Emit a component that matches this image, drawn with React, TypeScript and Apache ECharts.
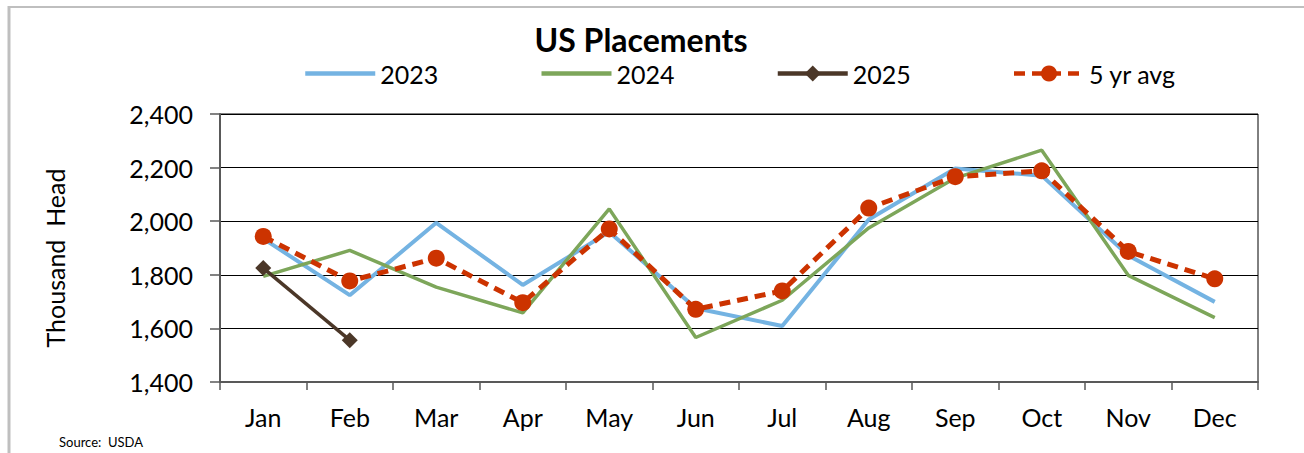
import React, { useEffect, useRef } from "react";
import * as echarts from "echarts";

const months = ["Jan", "Feb", "Mar", "Apr", "May", "Jun", "Jul", "Aug", "Sep", "Oct", "Nov", "Dec"];
const y2023 = [1935, 1724, 1994, 1762, 1960, 1675, 1609, 2006, 2197, 2170, 1872, 1699];
const y2024 = [1794, 1891, 1754, 1658, 2046, 1566, 1705, 1975, 2161, 2265, 1798, 1640];
const y2025 = [1825, 1556];
const avg5 = [1943, 1777, 1862, 1696, 1971, 1671, 1740, 2049, 2166, 2188, 1887, 1785];

const FONT = "Lato, 'Noto Sans', sans-serif";

export default function App() {
  const ref = useRef<HTMLDivElement>(null);
  useEffect(() => {
    document.body.style.margin = "0";
    if (!ref.current) return;
    const chart = echarts.init(ref.current, null, { renderer: "svg" });
    chart.setOption({
      animation: false,
      backgroundColor: "#ffffff",
      textStyle: { fontFamily: FONT },
      graphic: [
        { type: "line", shape: { x1: 8, y1: 7, x2: 1304, y2: 7 }, style: { stroke: "#BFBFBF", lineWidth: 2 } },
        { type: "line", shape: { x1: 9, y1: 6, x2: 9, y2: 453 }, style: { stroke: "#BFBFBF", lineWidth: 3 } },
        {
          type: "text",
          x: 641,
          y: 39,
          style: { text: "US Placements", fontFamily: FONT, fontSize: 32, fontWeight: "bold", fill: "#000", textAlign: "center", textVerticalAlign: "middle" },
        },
        {
          type: "text",
          x: 59,
          y: 442,
          style: { text: "Source:  USDA", fontFamily: FONT, fontSize: 13, fill: "#000", textAlign: "left", textVerticalAlign: "middle" },
        },
        {
          type: "text",
          x: 55,
          y: 258,
          rotation: Math.PI / 2,
          style: { text: "Thousand  Head", fontFamily: FONT, fontSize: 25, fill: "#000", textAlign: "center", textVerticalAlign: "middle" },
        },
      ],
      legend: {
        left: 303,
        top: 61,
        padding: 0,
        itemWidth: 70,
        itemHeight: 20,
        itemGap: 101,
        lineStyle: { width: 4.5 },
        textStyle: { fontFamily: FONT, fontSize: 25, color: "#000" },
        data: [
          { name: "2023", itemStyle: { opacity: 0 } },
          { name: "2024", itemStyle: { opacity: 0 } },
          { name: "2025" },
          { name: "5 yr avg" },
        ],
      },
      grid: { left: 220, right: 46, top: 114, bottom: 71, show: true, borderColor: "#000", borderWidth: 1 },
      xAxis: {
        type: "category",
        data: months,
        boundaryGap: true,
        axisLine: { lineStyle: { color: "#595959", width: 2 } },
        axisTick: { show: true, length: 8, lineStyle: { color: "#595959", width: 1.5 } },
        axisLabel: { fontFamily: FONT, fontSize: 25, color: "#000", margin: 22 },
      },
      yAxis: {
        type: "value",
        min: 1400,
        max: 2400,
        interval: 200,
        axisLine: { show: true, lineStyle: { color: "#595959", width: 2 } },
        axisTick: { show: true, length: 10, lineStyle: { color: "#595959", width: 1.5 } },
        splitLine: { lineStyle: { color: "#000", width: 1 } },
        axisLabel: {
          fontFamily: FONT,
          fontSize: 25,
          color: "#000",
          margin: 27,
          formatter: (v: number) => v.toLocaleString("en-US"),
        },
      },
      series: [
        {
          name: "2023",
          type: "line",
          data: y2023,
          symbol: "none",
          lineStyle: { color: "#74B3E2", width: 4 },
          itemStyle: { color: "#74B3E2" },
          z: 2,
        },
        {
          name: "2024",
          type: "line",
          data: y2024,
          symbol: "none",
          lineStyle: { color: "#7DA65A", width: 3.5 },
          itemStyle: { color: "#7DA65A" },
          z: 3,
        },
        {
          name: "2025",
          type: "line",
          data: y2025,
          symbol: "diamond",
          symbolSize: 16,
          lineStyle: { color: "#4B3728", width: 3.5 },
          itemStyle: { color: "#4B3728" },
          z: 4,
        },
        {
          name: "5 yr avg",
          type: "line",
          data: avg5,
          symbol: "circle",
          symbolSize: 17,
          lineStyle: { color: "#CC3300", width: 5, type: [11, 7] },
          itemStyle: { color: "#CC3300" },
          z: 5,
        },
      ],
    });
    return () => chart.dispose();
  }, []);
  return <div ref={ref} style={{ width: 1304, height: 453 }} />;
}
